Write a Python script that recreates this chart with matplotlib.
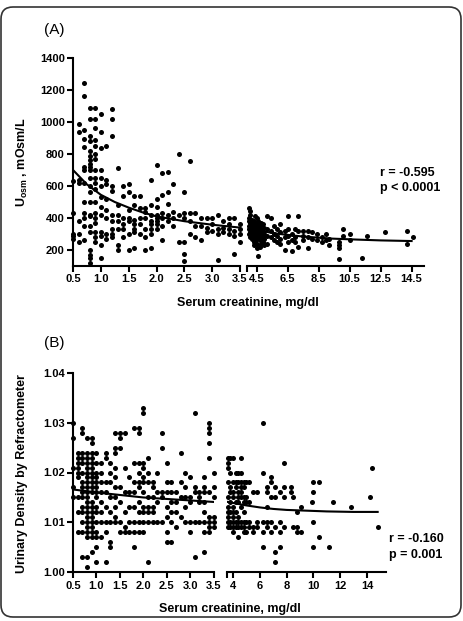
import numpy as np
import matplotlib
matplotlib.use('Agg')
import matplotlib.pyplot as plt
from matplotlib.patches import FancyBboxPatch

plt.rcParams['font.family'] = ['Liberation Sans', 'DejaVu Sans']
plt.rcParams['font.weight'] = 'bold'
plt.rcParams['mathtext.fontset'] = 'custom'
plt.rcParams['mathtext.rm'] = 'Liberation Sans'

# (A) Uosm, segmento 0.5 - 3.5
a_left = {
    0.5: [630, 430, 300, 270, 290],
    0.6: [985, 935, 640, 620, 380, 250, 300],
    0.7: [1245, 1165, 950, 895, 845, 720, 700, 620, 500, 430, 400, 350, 260],
    0.8: [1085, 1020, 915, 880, 820, 790, 760, 740, 720, 700, 650, 600, 560, 500, 420, 410, 350, 310, 200, 170, 150, 120],
    0.9: [1085, 1020, 960, 885, 850, 800, 770, 700, 650, 620, 580, 500, 430, 400, 370, 310, 280, 250],
    1.0: [1050, 935, 840, 700, 650, 600, 530, 470, 420, 310, 290, 230, 150],
    1.1: [850, 640, 610, 520, 450, 400, 300, 270],
    1.2: [1080, 1020, 910, 600, 570, 420, 380, 300, 330, 280],
    1.3: [710, 480, 420, 380, 330, 230, 200],
    1.4: [600, 540, 400, 360, 330, 280],
    1.5: [610, 560, 450, 400, 380, 300, 200],
    1.6: [540, 480, 390, 360, 310, 210, 330],
    1.7: [540, 460, 400, 360, 300],
    1.8: [460, 440, 400, 330, 280, 200],
    1.9: [640, 480, 420, 380, 360, 330, 300, 215],
    2.0: [730, 520, 470, 420, 400, 380, 360, 330],
    2.1: [680, 545, 430, 400, 350, 260],
    2.2: [690, 560, 490, 420, 380],
    2.3: [615, 440, 400, 350],
    2.4: [800, 420, 250],
    2.5: [560, 430, 400, 250, 175, 130],
    2.6: [755, 430, 380, 300],
    2.7: [430, 350, 280],
    2.8: [400, 350, 260],
    2.9: [400, 340, 310],
    3.0: [400, 360, 320],
    3.1: [420, 330, 300, 140],
    3.2: [380, 340, 310],
    3.3: [400, 360, 330, 300],
    3.4: [400, 320, 290, 175],
    3.5: [360, 330, 300, 250],
}

# (A) Uosm, segmento 4 - 15
a_right = {
    4.0: [460, 400, 380, 350, 330, 300],
    4.1: [445, 420, 370, 340, 310, 280],
    4.2: [390, 360, 330, 300, 270],
    4.3: [380, 350, 320, 290, 250, 230],
    4.4: [410, 370, 340, 310, 280, 250],
    4.5: [400, 360, 330, 300, 270, 240, 210],
    4.6: [380, 340, 310, 290, 160],
    4.7: [350, 320, 290, 260, 220],
    4.8: [370, 330, 300, 270, 240],
    4.9: [360, 310, 280, 250],
    5.0: [340, 300, 270, 230],
    5.2: [415, 330, 290, 240],
    5.4: [400, 320, 280],
    5.6: [350, 300, 260],
    5.8: [330, 290, 250],
    6.0: [360, 310, 270, 240],
    6.3: [320, 280, 200],
    6.5: [410, 330, 290, 250],
    6.8: [300, 260, 195],
    7.0: [330, 280, 250],
    7.2: [410, 320, 220],
    7.5: [320, 290, 260],
    7.8: [320, 280, 210],
    8.1: [310, 270],
    8.4: [300, 260],
    8.7: [280, 250],
    9.0: [300, 260],
    9.2: [270, 230],
    9.8: [250, 230, 210, 145],
    10.1: [330, 290],
    10.5: [300, 260],
    11.3: [150],
    11.6: [290],
    12.8: [310],
    14.2: [320, 235],
    14.6: [280],
}

# (A) curva ajustada
a_fit_x_left = [0.5, 0.75, 1.0, 1.25, 1.5, 1.75, 2.0, 2.5, 3.0, 3.5]
a_fit_y_left = [700, 610, 545, 500, 465, 435, 410, 380, 358, 340]
a_fit_x_right = [4.0, 5.0, 6.0, 7.3, 8.5, 9.4, 11.0, 12.5, 14.5]
a_fit_y_right = [334, 315, 300, 286, 277, 271, 265, 260, 256]

# (B) densidade urinária (milésimos acima de 1.000), segmento 0.5 - 3.5
b_left = {
    0.5: [30, 27, 21, 17, 15],
    0.6: [24, 23, 22, 21, 20, 19, 15, 12, 8],
    0.7: [29, 28, 24, 23, 22, 20, 18, 17, 16, 15, 13, 12, 10, 8, 3],
    0.8: [27, 24, 23, 22, 21, 20, 19, 18, 17, 16, 15, 14, 13, 12, 11, 10, 9, 8, 7, 3, 1],
    0.9: [27, 26, 24, 23, 22, 21, 20, 19, 18, 17, 16, 14, 13, 12, 11, 10, 9, 8, 7, 4],
    1.0: [24, 22, 20, 19, 18, 17, 16, 15, 13, 12, 10, 8, 7, 5, 2],
    1.1: [22, 20, 18, 16, 14, 12, 10, 7],
    1.2: [24, 23, 18, 16, 13, 10, 8, 2],
    1.3: [22, 20, 18, 15, 12, 10, 6, 5],
    1.4: [28, 25, 24, 21, 19, 17, 15, 13, 11, 10],
    1.5: [28, 27, 25, 17, 14, 10, 8],
    1.6: [28, 21, 16, 12, 9, 8],
    1.7: [19, 16, 13, 10, 8],
    1.8: [29, 22, 18, 16, 13, 10, 8, 5],
    1.9: [29, 28, 22, 20, 18, 17, 14, 12, 10, 8],
    2.0: [33, 32, 22, 21, 19, 18, 16, 13, 12, 10, 8],
    2.1: [23, 20, 18, 15, 13, 12, 10, 2],
    2.2: [18, 17, 15, 13, 12, 10],
    2.3: [20, 16, 14, 10],
    2.4: [28, 25, 16, 15, 10],
    2.5: [22, 18, 16, 13, 11, 8, 6],
    2.6: [18, 16, 14, 12, 10, 6],
    2.7: [16, 14, 12, 9],
    2.8: [24, 18, 15, 11],
    2.9: [20, 17, 15, 13, 10],
    3.0: [19, 15, 14, 10, 8],
    3.1: [32, 17, 16, 10, 3],
    3.2: [16, 15, 14, 10],
    3.3: [19, 17, 16, 14, 12, 10, 8, 4],
    3.4: [30, 29, 28, 26, 23, 16, 11, 10, 9, 8],
    3.5: [20, 17, 15, 11, 10, 9],
}

# (B) segmento 3.6 - 15
b_right = {
    3.6: [23, 22, 21, 18, 15, 13, 12, 11, 10, 9],
    3.8: [23, 20, 17, 16, 14, 12, 10, 9],
    4.0: [23, 18, 16, 15, 13, 12, 11, 10, 9, 8],
    4.2: [20, 18, 17, 14, 12, 10, 9],
    4.4: [20, 18, 16, 15, 14, 11, 10, 9, 7],
    4.6: [23, 20, 18, 17, 16, 15, 13, 10, 9],
    4.8: [18, 17, 15, 14, 12, 10, 9, 8],
    5.0: [18, 15, 14, 10, 8],
    5.2: [18, 14, 10, 9],
    5.5: [16, 9, 8],
    5.8: [16, 10, 9],
    6.2: [30, 20, 10, 8, 5],
    6.5: [17, 16, 13, 10, 9],
    6.8: [19, 18, 15, 10, 8],
    7.1: [17, 15, 9, 4, 2],
    7.5: [16, 10, 8, 5],
    7.8: [22, 17, 15, 9],
    8.3: [17, 16],
    8.5: [15, 9],
    8.8: [12, 9, 8],
    9.1: [13, 8],
    9.9: [14],
    10.0: [18, 16, 10, 5],
    10.4: [18, 7],
    11.2: [5],
    11.5: [14],
    12.8: [13],
    14.2: [15],
    14.4: [21],
    14.8: [9],
}

b_fit_x_left = [0.5, 1.0, 1.5, 2.0, 2.5, 3.0, 3.5]
b_fit_y_left = [1.0166, 1.0160, 1.0155, 1.0150, 1.0147, 1.0144, 1.0141]
b_fit_x_right = [3.6, 5.0, 6.0, 7.0, 8.0, 9.0, 11.0, 13.0, 14.8]
b_fit_y_right = [1.0141, 1.0134, 1.0130, 1.0127, 1.0125, 1.0124, 1.0122, 1.0121, 1.0121]


def achata(d, escala=1.0, base=0.0):
    xs, ys = [], []
    for x, vals in d.items():
        for v in vals:
            xs.append(x)
            ys.append(base + v * escala)
    return np.array(xs), np.array(ys)


def estilo(ax, mostra_y):
    for s in ['top', 'right']:
        ax.spines[s].set_visible(False)
    ax.spines['bottom'].set_linewidth(1.5)
    ax.spines['left'].set_linewidth(1.5)
    if not mostra_y:
        ax.spines['left'].set_visible(False)
        ax.tick_params(axis='y', left=False, labelleft=False)
    ax.tick_params(direction='out', length=4, width=1.5, labelsize=8, pad=2)
    ax.patch.set_alpha(0)


W, H = 463, 621
fig = plt.figure(figsize=(W / 100, H / 100), dpi=100)


def eixo(x0, x1, y0, y1):
    # coordenadas em pixels (origem no topo) -> fração da figura
    return fig.add_axes([x0 / W, 1 - y1 / H, (x1 - x0) / W, (y1 - y0) / H])


pt = dict(s=13, color='black', linewidths=0, clip_on=False, zorder=3)

# ---------------- (A) ----------------
axA1 = eixo(73, 240, 58, 266)
axA2 = eixo(247, 424, 58, 266)
x, y = achata(a_left)
axA1.scatter(x, y, **pt)
x, y = achata(a_right)
axA2.scatter(x, y, **pt)
axA1.plot(a_fit_x_left, a_fit_y_left, color='black', lw=1.5, zorder=4)
axA2.plot(a_fit_x_right, a_fit_y_right, color='black', lw=1.5, zorder=4)

for ax in (axA1, axA2):
    ax.set_ylim(100, 1400)
axA1.set_xlim(0.5, 3.5)
axA2.set_xlim(3.88, 15.3)
axA1.set_xticks(np.arange(0.5, 3.51, 0.5))
axA1.set_xticklabels([f'{v:.1f}' for v in np.arange(0.5, 3.51, 0.5)])
axA2.set_xticks(np.arange(4.5, 14.6, 2.0))
axA2.set_xticklabels([f'{v:.1f}' for v in np.arange(4.5, 14.6, 2.0)])
axA2.set_xticks([3.88], minor=True)
axA1.set_yticks(np.arange(200, 1401, 200))
estilo(axA1, True)
estilo(axA2, False)
axA2.tick_params(which='minor', direction='out', length=4, width=1.5)

fig.text(54 / W, 1 - 30 / H, '(A)', fontsize=11, fontweight='normal', ha='center', va='center')
fig.text(22 / W, 1 - 162 / H, r'U$_{\mathrm{osm}}$ , mOsm/L', rotation=90,
         fontsize=9, ha='center', va='center')
fig.text(248 / W, 1 - 303 / H, 'Serum creatinine, mg/dl', fontsize=9, ha='center', va='center')
fig.text(380 / W, 1 - 173 / H, 'r = -0.595', fontsize=9, ha='left', va='center')
fig.text(380 / W, 1 - 188 / H, 'p < 0.0001', fontsize=9, ha='left', va='center')

# ---------------- (B) ----------------
axB1 = eixo(73, 213.5, 372.7, 572.3)
axB2 = eixo(227.3, 385.7, 372.7, 572.3)
x, y = achata(b_left, 0.001, 1.0)
axB1.scatter(x, y, **pt)
x, y = achata(b_right, 0.001, 1.0)
axB2.scatter(x, y, **pt)
axB1.plot(b_fit_x_left, b_fit_y_left, color='black', lw=1.5, zorder=4)
axB2.plot(b_fit_x_right, b_fit_y_right, color='black', lw=1.5, zorder=4)

for ax in (axB1, axB2):
    ax.set_ylim(1.00, 1.04)
axB1.set_xlim(0.5, 3.5)
axB2.set_xlim(3.57, 15.4)
axB1.set_xticks(np.arange(0.5, 3.51, 0.5))
axB1.set_xticklabels([f'{v:.1f}' for v in np.arange(0.5, 3.51, 0.5)])
axB2.set_xticks(np.arange(4, 14.1, 2))
axB2.set_xticks([3.57], minor=True)
axB1.set_yticks([1.00, 1.01, 1.02, 1.03, 1.04])
axB1.set_yticklabels(['1.00', '1.01', '1.02', '1.03', '1.04'])
estilo(axB1, True)
estilo(axB2, False)
axB2.tick_params(which='minor', direction='out', length=4, width=1.5)

fig.text(54 / W, 1 - 343 / H, '(B)', fontsize=11, fontweight='normal', ha='center', va='center')
fig.text(22 / W, 1 - 474 / H, 'Urinary Density by Refractometer', rotation=90,
         fontsize=9, ha='center', va='center')
fig.text(230 / W, 1 - 609 / H, 'Serum creatinine, mg/dl', fontsize=9, ha='center', va='center')
fig.text(389 / W, 1 - 539 / H, 'r = -0.160', fontsize=9, ha='left', va='center')
fig.text(389 / W, 1 - 555 / H, 'p = 0.001', fontsize=9, ha='left', va='center')

# moldura arredondada
moldura = FancyBboxPatch((1, 4), 460, 610, boxstyle='round,pad=0,rounding_size=12',
                         transform=None, fill=False, edgecolor='#333333', linewidth=1.2)
fig.patches.append(moldura)

fig.savefig('out.png', dpi=100)
